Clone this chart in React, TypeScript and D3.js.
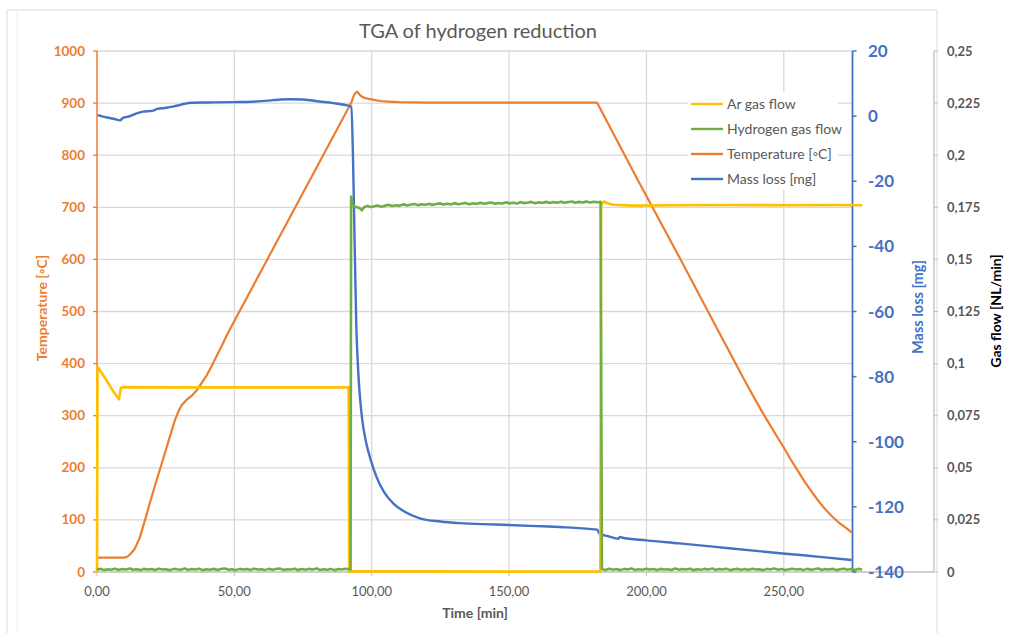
import React from "react";
import * as d3 from "d3";

// ---- data ----------------------------------------------------------------
// time in minutes, temperature in °C
const temperature: [number, number][] = [
  [0, 27.5], [4, 27.5], [9.6, 27.5], [10.6, 28.5], [11.5, 31], [12.6, 37], [13.8, 45],
  [15.5, 65], [17.5, 100], [19, 128], [21, 164], [24.7, 228], [27, 268], [28.4, 292],
  [29.8, 310], [30.8, 320], [32.5, 330], [34.4, 338], [36.2, 348], [38, 362], [40, 378],
  [41.7, 395], [43.5, 414], [45.3, 433], [47.3, 455], [49.6, 478],
  [92.6, 901], [93.2, 911], [93.8, 918], [94.7, 922], [95.2, 919], [95.8, 915], [96.5, 912],
  [98, 909], [100, 907], [103, 904], [106, 903], [110, 902], [120, 901], [150, 901],
  [170, 901], [182, 901],
  [196.7, 754], [212, 604], [225, 474], [235.6, 369], [238, 346], [240, 327], [242.5, 304],
  [245, 282], [247.5, 260], [250, 239], [252.5, 216], [255, 195], [257.5, 174], [260, 155],
  [262.5, 137], [265, 121], [267.5, 107], [270, 95], [272.5, 85], [274.7, 76],
];

// time in minutes, mass change in mg
const massLoss: [number, number][] = [
  [0.3, 0.3], [3, -0.3], [6, -0.8], [8.4, -1.3], [9.3, -0.6], [12, 0], [14, 0.7],
  [16.8, 1.4], [20, 1.6], [22, 2.2], [24.7, 2.5], [28, 3], [30, 3.4], [32, 3.8],
  [34.4, 4.1], [40, 4.2], [50, 4.3], [56, 4.4], [60, 4.6], [64, 4.9], [67, 5.1], [70, 5.2],
  [75, 5.1], [81, 4.5], [86, 4], [90, 3.5], [92.6, 2.9], [93.2, -13.5], [93.8, -40],
  [94.4, -64.7], [95, -77], [95.6, -85], [96.5, -93], [98, -100.4], [99.8, -106],
  [101.7, -110.7], [104.5, -115.5], [107.8, -118.9], [112, -121.5], [117.5, -123.5],
  [125, -124.5], [132, -125], [145, -125.4], [160, -125.9], [168.4, -126.2], [181, -126.9],
  [182, -127], [183, -128.3], [186, -129], [189.8, -129.8], [190.3, -129.2], [191, -129.4],
  [200, -130.3], [212, -131.2], [230, -132.7], [249.6, -134.3], [265, -135.5], [274.7, -136.3],
];

// time in minutes, argon flow in NL/min
const argonFlow: [number, number][] = [
  [0, 0], [0.2, 0.0985], [3, 0.093], [6, 0.0865], [8, 0.0829], [8.7, 0.0884], [9.5, 0.0887],
  [30, 0.0886], [60, 0.0886], [91.6, 0.0886], [91.8, 0], [92.5, 0.0003], [120, 0.0003],
  [150, 0.0002], [183.2, 0.0003], [183.5, 0.176], [184.5, 0.1778], [186, 0.1768],
  [188, 0.1762], [195, 0.1758], [210, 0.176], [230, 0.1761], [250, 0.176], [270, 0.1761],
  [278.5, 0.176],
];

// time in minutes, hydrogen flow in NL/min
const hydrogenFlow: [number, number][] = [
  [0, 0.0012], [1.5, 0.0015], [2.5, 0.0009], [4, 0.0013], [5, 0.0011], [6.5, 0.0016],
  [8, 0.001], [9, 0.0014], [10.5, 0.0012], [12, 0.0017], [13, 0.0011], [14.5, 0.0013],
  [16, 0.0009], [17, 0.0015], [18.5, 0.0012], [20, 0.0014], [21, 0.001], [22.5, 0.0016],
  [24, 0.0012], [25, 0.0013], [26.5, 0.0009], [28, 0.0015], [29, 0.0013], [30.5, 0.0011],
  [32, 0.0017], [33, 0.001], [34.5, 0.0014], [36, 0.0012], [37, 0.0016], [38.5, 0.0009],
  [40, 0.0013], [41, 0.0011], [42.5, 0.0015], [44, 0.001], [45, 0.0014], [46.5, 0.0017],
  [48, 0.0011], [49, 0.0013], [50.5, 0.0009], [52, 0.0015], [53, 0.0012], [54.5, 0.0014],
  [56, 0.001], [57, 0.0016], [58.5, 0.0012], [60, 0.0013], [61, 0.0009], [62.5, 0.0015],
  [64, 0.0011], [65, 0.0014], [66.5, 0.0017], [68, 0.001], [69, 0.0013], [70.5, 0.0012],
  [72, 0.0016], [73, 0.0009], [74.5, 0.0014], [76, 0.0011], [77, 0.0015], [78.5, 0.0012],
  [80, 0.0017], [81, 0.001], [82.5, 0.0013], [84, 0.0011], [85, 0.0015], [86.5, 0.0009],
  [88, 0.0014], [89, 0.0012], [90.5, 0.0016], [92.3, 0.0012],
  [92.5, 0.1802], [93, 0.1762], [94, 0.1752], [95.5, 0.1748], [96.4, 0.1736], [97.2, 0.175],
  [98.5, 0.1757], [99.5, 0.1751], [101, 0.1755], [102, 0.1759], [103.5, 0.1753], [105, 0.1758],
  [106, 0.1762], [107.5, 0.1756], [109, 0.176], [110, 0.1757], [111.5, 0.1764], [113, 0.1759],
  [114, 0.1762], [115.5, 0.1766], [117, 0.176], [118, 0.1765], [119.5, 0.1762], [121, 0.1767],
  [122, 0.1761], [123.5, 0.1766], [125, 0.1769], [126, 0.1763], [127.5, 0.1767], [129, 0.1764],
  [130, 0.177], [131.5, 0.1765], [133, 0.1768], [134, 0.1771], [135.5, 0.1765], [137, 0.1769],
  [138, 0.1766], [139.5, 0.1772], [141, 0.1767], [142, 0.177], [143.5, 0.1773], [145, 0.1767],
  [146, 0.1771], [147.5, 0.1768], [149, 0.1774], [150, 0.1769], [151.5, 0.1772], [153, 0.1768],
  [154, 0.1775], [155.5, 0.177], [157, 0.1773], [158, 0.1776], [159.5, 0.177], [161, 0.1774],
  [162, 0.1771], [163.5, 0.1776], [165, 0.1771], [166, 0.1775], [167.5, 0.1772], [169, 0.1777],
  [170, 0.1772], [171.5, 0.1775], [173, 0.1778], [174, 0.1772], [175.5, 0.1776], [177, 0.1773],
  [178, 0.1778], [179.5, 0.1773], [181, 0.1777], [182, 0.1774], [183.3, 0.1776],
  [183.8, 0.0014], [185, 0.001], [186.5, 0.0016], [188, 0.0011], [189, 0.0014], [190.5, 0.0009],
  [192, 0.0015], [193, 0.0012], [194.5, 0.0017], [196, 0.001], [197, 0.0013], [198.5, 0.0011],
  [200, 0.0016], [201, 0.0012], [202.5, 0.0014], [204, 0.0009], [205, 0.0015], [206.5, 0.0012],
  [208, 0.0013], [209, 0.001], [210.5, 0.0017], [212, 0.0011], [213, 0.0014], [214.5, 0.0012],
  [216, 0.0016], [217, 0.0009], [218.5, 0.0013], [220, 0.0011], [221, 0.0015], [222.5, 0.0012],
  [224, 0.0017], [225, 0.001], [226.5, 0.0014], [228, 0.0012], [229, 0.0016], [230.5, 0.0009],
  [232, 0.0013], [233, 0.0015], [234.5, 0.0011], [236, 0.0014], [237, 0.001], [238.5, 0.0016],
  [240, 0.0012], [241, 0.0013], [242.5, 0.0009], [244, 0.0015], [245, 0.0012], [246.5, 0.0017],
  [248, 0.0011], [249, 0.0014], [250.5, 0.001], [252, 0.0013], [253, 0.0016], [254.5, 0.0012],
  [256, 0.0014], [257, 0.0009], [258.5, 0.0015], [260, 0.0011], [261, 0.0013], [262.5, 0.0017],
  [264, 0.001], [265, 0.0014], [266.5, 0.0012], [268, 0.0015], [269, 0.0009], [270.5, 0.0013],
  [272, 0.0016], [273, 0.0011], [274.5, 0.0014], [276, 0.001], [277, 0.0015], [278.5, 0.0012],
];

const timeTicks = [0, 50, 100, 150, 200, 250];
const temperatureTicks = [0, 100, 200, 300, 400, 500, 600, 700, 800, 900, 1000];
const massTicks = [-140, -120, -100, -80, -60, -40, -20, 0, 20];
const flowTicks = [0, 0.025, 0.05, 0.075, 0.1, 0.125, 0.15, 0.175, 0.2, 0.225, 0.25];

const legendItems = [
  { label: "Ar gas flow", color: "#FFC000" },
  { label: "Hydrogen gas flow", color: "#70AD47" },
  { label: "Temperature [◦C]", color: "#ED7D31" },
  { label: "Mass loss [mg]", color: "#4472C4" },
];

// ---- layout --------------------------------------------------------------
const W = 1017;
const H = 633;
const left = 97;
const right = 852.5;
const top = 51;
const bottom = 572;
const flowAxisX = 934;
const FONT = "Lato, 'Liberation Sans', sans-serif";

const fmtComma = (v: number, digits?: number) =>
  (digits === undefined ? String(v) : v.toFixed(digits)).replace(".", ",");

export default function App() {
  const x = d3.scaleLinear().domain([0, 275]).range([left, right]);
  const yTemp = d3.scaleLinear().domain([0, 1000]).range([bottom, top]);
  const yMass = d3.scaleLinear().domain([-140, 20]).range([bottom, top]);
  const yFlow = d3.scaleLinear().domain([0, 0.25]).range([bottom, top]);

  const tempLine = d3
    .line<[number, number]>()
    .x((d) => x(d[0]))
    .y((d) => yTemp(d[1]));
  const massLine = d3
    .line<[number, number]>()
    .x((d) => x(d[0]))
    .y((d) => yMass(d[1]))
    .curve(d3.curveMonotoneX);
  const flowLine = d3
    .line<[number, number]>()
    .x((d) => x(d[0]))
    .y((d) => yFlow(d[1]));

  return (
    <svg
      width={W}
      height={H}
      style={{ position: "absolute", left: 0, top: 0, background: "#ffffff" }}
      fontFamily={FONT}
    >
      <rect x={0} y={0} width={W} height={H} fill="#ffffff" />
      {/* chart frame */}
      <path d={`M7,${H} V10 H937 V${H}`} fill="none" stroke="#d9d9d9" strokeWidth={1} />
      <line x1={17} x2={17} y1={10} y2={H} stroke="#f0f0f0" strokeWidth={1} />

      {/* title */}
      <text x={478} y={38} textAnchor="middle" fontSize={20} fill="#595959">
        TGA of hydrogen reduction
      </text>

      {/* gridlines */}
      {temperatureTicks.slice(1).map((t) => (
        <line key={"h" + t} x1={left} x2={right} y1={yTemp(t)} y2={yTemp(t)} stroke="#d9d9d9" strokeWidth={1.3} />
      ))}
      {timeTicks.slice(1).map((t) => (
        <line key={"v" + t} x1={x(t)} x2={x(t)} y1={top} y2={bottom} stroke="#d9d9d9" strokeWidth={1.3} />
      ))}

      {/* time axis */}
      <line x1={left} x2={flowAxisX} y1={bottom} y2={bottom} stroke="#bfbfbf" strokeWidth={1.3} />
      {timeTicks.map((t) => (
        <g key={"xt" + t}>
          <line x1={x(t)} x2={x(t)} y1={bottom} y2={bottom + 4} stroke="#bfbfbf" />
          <text x={x(t)} y={596} textAnchor="middle" fontSize={13} fill="#595959">
            {fmtComma(t, 2)}
          </text>
        </g>
      ))}
      <text x={475} y={618} textAnchor="middle" fontSize={14} fontWeight="bold" fill="#595959">
        Time [min]
      </text>

      {/* temperature axis */}
      <line x1={left} x2={left} y1={top} y2={bottom} stroke="#ED7D31" strokeWidth={1.5} />
      {temperatureTicks.map((t) => (
        <g key={"tt" + t}>
          <line x1={left - 4} x2={left} y1={yTemp(t)} y2={yTemp(t)} stroke="#ED7D31" strokeWidth={1.3} />
          <text x={85} y={yTemp(t) + 4.5} textAnchor="end" fontSize={13.5} fontWeight="bold" fill="#ED7D31">
            {t}
          </text>
        </g>
      ))}
      <text
        transform={`translate(47,${308}) rotate(-90)`}
        textAnchor="middle"
        fontSize={14}
        fontWeight="bold"
        fill="#ED7D31"
      >
        Temperature [◦C]
      </text>

      {/* mass axis */}
      <line x1={right} x2={right} y1={top} y2={bottom} stroke="#4472C4" strokeWidth={1.8} />
      {massTicks.map((t) => (
        <g key={"mt" + t}>
          <line x1={right} x2={right + 4} y1={yMass(t)} y2={yMass(t)} stroke="#4472C4" strokeWidth={1.5} />
          <text x={868} y={yMass(t) + 6} fontSize={17} fontWeight="bold" fill="#4472C4">
            {t}
          </text>
        </g>
      ))}
      <text
        transform={`translate(923,${307}) rotate(-90)`}
        textAnchor="middle"
        fontSize={14.5}
        fontWeight="bold"
        fill="#4472C4"
      >
        Mass loss [mg]
      </text>

      {/* gas flow axis */}
      <line x1={flowAxisX} x2={flowAxisX} y1={top} y2={bottom} stroke="#bfbfbf" strokeWidth={1.3} />
      {flowTicks.map((t) => (
        <g key={"ft" + t}>
          <line x1={flowAxisX} x2={flowAxisX + 4} y1={yFlow(t)} y2={yFlow(t)} stroke="#bfbfbf" />
          <text x={947} y={yFlow(t) + 4.5} fontSize={13} fontWeight="bold" fill="#595959">
            {fmtComma(t)}
          </text>
        </g>
      ))}
      <text
        transform={`translate(1001,${311}) rotate(-90)`}
        textAnchor="middle"
        fontSize={14}
        fontWeight="bold"
        fill="#000000"
      >
        Gas flow [NL/min]
      </text>

      {/* series */}
      <path d={tempLine(temperature) ?? ""} fill="none" stroke="#ED7D31" strokeWidth={2.2} strokeLinejoin="round" />
      <path d={massLine(massLoss) ?? ""} fill="none" stroke="#4472C4" strokeWidth={2.4} strokeLinejoin="round" />
      <path d={flowLine(argonFlow) ?? ""} fill="none" stroke="#FFC000" strokeWidth={2.6} strokeLinejoin="round" />
      <path d={flowLine(hydrogenFlow) ?? ""} fill="none" stroke="#70AD47" strokeWidth={2.6} strokeLinejoin="round" />

      {/* legend */}
      <rect x={688} y={92} width={150} height={98} fill="#ffffff" />
      {legendItems.map((item, i) => {
        const ly = 104 + i * 25;
        return (
          <g key={item.label}>
            <line x1={691} x2={723} y1={ly} y2={ly} stroke={item.color} strokeWidth={2.4} />
            <text x={727} y={ly + 5} fontSize={14} fill="#595959">
              {item.label}
            </text>
          </g>
        );
      })}
    </svg>
  );
}
